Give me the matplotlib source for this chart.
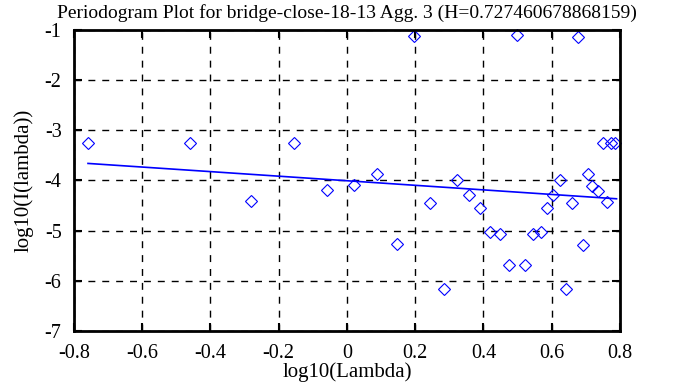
import matplotlib.pyplot as plt
import numpy as np

plt.rcParams['font.family'] = ['Liberation Serif', 'DejaVu Serif']

# periodogram points (log10 lambda, log10 I(lambda))
log_lambda = [-0.759, -0.460, -0.281, -0.155, -0.059, 0.021, 0.088, 0.146, 0.197,
              0.243, 0.284, 0.321, 0.358, 0.390, 0.419, 0.448, 0.475, 0.499,
              0.523, 0.544, 0.568, 0.585, 0.604, 0.624, 0.642, 0.660, 0.677,
              0.691, 0.707, 0.719, 0.737, 0.749, 0.761, 0.773, 0.785]
log_I = [-3.25, -3.25, -4.41, -3.25, -4.19, -4.09, -3.87, -5.27, -1.12,
         -4.45, -6.16, -4.00, -4.28, -4.54, -5.03, -5.06, -5.68, -1.10,
         -5.69, -5.06, -5.03, -4.54, -4.28, -4.00, -6.16, -4.45, -1.13,
         -5.28, -3.87, -4.11, -4.20, -3.26, -4.42, -3.26, -3.25]

H = 0.727460678868159
slope = 1 - 2 * H
intercept = -4.005

x = np.array(log_lambda)
y = np.array(log_I)

fig = plt.figure(figsize=(6.95, 3.87), dpi=100)
ax = fig.add_axes([0.1065, 0.1447, 0.7855, 0.7778])

ax.plot(x, y, 'D', ms=6.5, mfc='none', mec='blue', mew=0.8, clip_on=False)
xf = np.array([x.min(), 0.79])
ax.plot(xf, intercept + slope * xf, color='blue', lw=1.2)

ax.set_xlim(-0.8, 0.8)
ax.set_ylim(-7, -1)
ax.set_xticks(np.arange(-0.8, 0.81, 0.2))
ax.set_xticklabels(['-0.8', '-0.6', '-0.4', '-0.2', '0', '0.2', '0.4', '0.6', '0.8'])
ax.set_yticks(range(-7, 0))
ax.set_yticklabels([str(v) for v in range(-7, 0)])
ax.grid(True, color='black', linestyle=(0, (5, 5)), lw=1)
ax.tick_params(direction='in', top=True, right=True, length=6, width=1.5, labelsize=14.5)
ax.tick_params(axis='x', pad=9)
ax.tick_params(axis='y', pad=9)
for s in ax.spines.values():
    s.set_linewidth(2)

ax.set_title('Periodogram Plot for bridge-close-18-13 Agg. 3 (H=0.727460678868159)', fontsize=14, pad=9)
ax.set_xlabel('log10(Lambda)', fontsize=15, labelpad=0)
ax.set_ylabel('log10(I(lambda))', fontsize=15, labelpad=8)

fig.savefig('out.png', dpi=100)
